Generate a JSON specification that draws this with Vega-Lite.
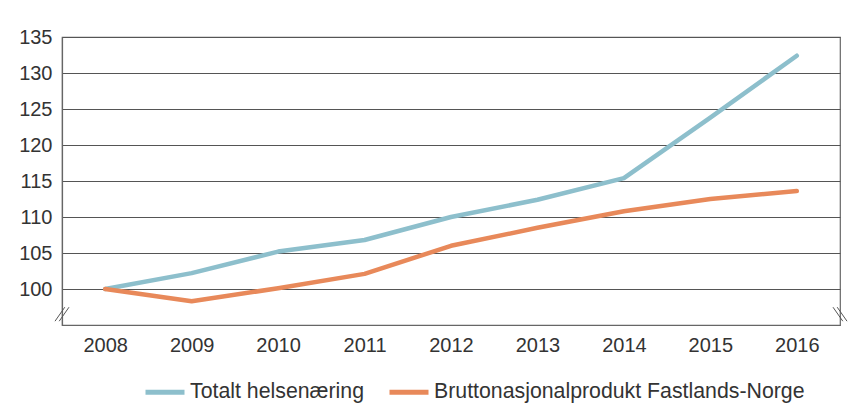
{
  "$schema": "https://vega.github.io/schema/vega-lite/v6.json",
  "width": 778,
  "height": 288,
  "autosize": {"type": "none"},
  "padding": {"left": 62, "top": 37, "right": 13, "bottom": 92},
  "background": "white",
  "config": {
    "view": {"stroke": "#666666", "strokeWidth": 1.2},
    "font": "Liberation Sans",
    "axis": {"labelFont": "Liberation Sans", "labelColor": "#333333", "ticks": false, "domainColor": "#666666", "domainWidth": 1.2}
  },
  "datasets": {
    "lines": [
      {"year": 2008, "series": "Totalt helsenæring", "value": 100},
      {"year": 2009, "series": "Totalt helsenæring", "value": 102.2},
      {"year": 2010, "series": "Totalt helsenæring", "value": 105.2},
      {"year": 2011, "series": "Totalt helsenæring", "value": 106.8},
      {"year": 2012, "series": "Totalt helsenæring", "value": 110},
      {"year": 2013, "series": "Totalt helsenæring", "value": 112.4},
      {"year": 2014, "series": "Totalt helsenæring", "value": 115.4},
      {"year": 2015, "series": "Totalt helsenæring", "value": 123.8},
      {"year": 2016, "series": "Totalt helsenæring", "value": 132.4},
      {"year": 2008, "series": "Bruttonasjonalprodukt Fastlands-Norge", "value": 100},
      {"year": 2009, "series": "Bruttonasjonalprodukt Fastlands-Norge", "value": 98.3},
      {"year": 2010, "series": "Bruttonasjonalprodukt Fastlands-Norge", "value": 100.1},
      {"year": 2011, "series": "Bruttonasjonalprodukt Fastlands-Norge", "value": 102.1},
      {"year": 2012, "series": "Bruttonasjonalprodukt Fastlands-Norge", "value": 106},
      {"year": 2013, "series": "Bruttonasjonalprodukt Fastlands-Norge", "value": 108.5},
      {"year": 2014, "series": "Bruttonasjonalprodukt Fastlands-Norge", "value": 110.8},
      {"year": 2015, "series": "Bruttonasjonalprodukt Fastlands-Norge", "value": 112.5},
      {"year": 2016, "series": "Bruttonasjonalprodukt Fastlands-Norge", "value": 113.6}
    ],
    "breakLeft": [{"year": 2007.5, "value": 96.5}],
    "breakRight": [{"year": 2016.5, "value": 96.5}]
  },
  "layer": [
    {
      "data": {"name": "lines"},
      "mark": {"type": "line", "strokeWidth": 4.5, "strokeCap": "round", "strokeJoin": "round"},
      "encoding": {
        "x": {
          "field": "year", "type": "quantitative",
          "scale": {"domain": [2007.5, 2016.5], "nice": false, "zero": false},
          "axis": {"title": null, "values": [2008, 2009, 2010, 2011, 2012, 2013, 2014, 2015, 2016], "format": "d", "grid": false, "labelFontSize": 20, "labelPadding": 10, "labelFlush": false}
        },
        "y": {
          "field": "value", "type": "quantitative",
          "scale": {"domain": [95, 135], "nice": false, "zero": false},
          "axis": {"title": null, "values": [100, 105, 110, 115, 120, 125, 130, 135], "grid": true, "gridColor": "#555555", "gridWidth": 1.2, "gridOpacity": 1, "labelFontSize": 20, "labelPadding": 10}
        },
        "color": {
          "field": "series", "type": "nominal",
          "scale": {"domain": ["Totalt helsenæring", "Bruttonasjonalprodukt Fastlands-Norge"], "range": ["#8dbfcc", "#e8895a"]},
          "legend": {
            "title": null, "orient": "none", "direction": "horizontal", "legendX": 81, "legendY": 333,
            "symbolType": "stroke", "symbolSize": 1521, "symbolStrokeWidth": 5,
            "labelFontSize": 21.3, "labelColor": "#333333", "labelOffset": 3, "columnPadding": 14, "labelLimit": 500
          }
        }
      }
    },
    {
      "data": {"name": "breakLeft"},
      "mark": {"type": "point", "shape": "M-1,1L0.4,-1M-0.4,1L1,-1", "size": 196, "stroke": "#555555", "strokeWidth": 1, "opacity": 1, "filled": false},
      "encoding": {
        "x": {"field": "year", "type": "quantitative"},
        "y": {"field": "value", "type": "quantitative"}
      }
    },
    {
      "data": {"name": "breakRight"},
      "mark": {"type": "point", "shape": "M-1,-1L0.4,1M-0.4,-1L1,1", "size": 196, "stroke": "#555555", "strokeWidth": 1, "opacity": 1, "filled": false},
      "encoding": {
        "x": {"field": "year", "type": "quantitative"},
        "y": {"field": "value", "type": "quantitative"}
      }
    }
  ]
}
